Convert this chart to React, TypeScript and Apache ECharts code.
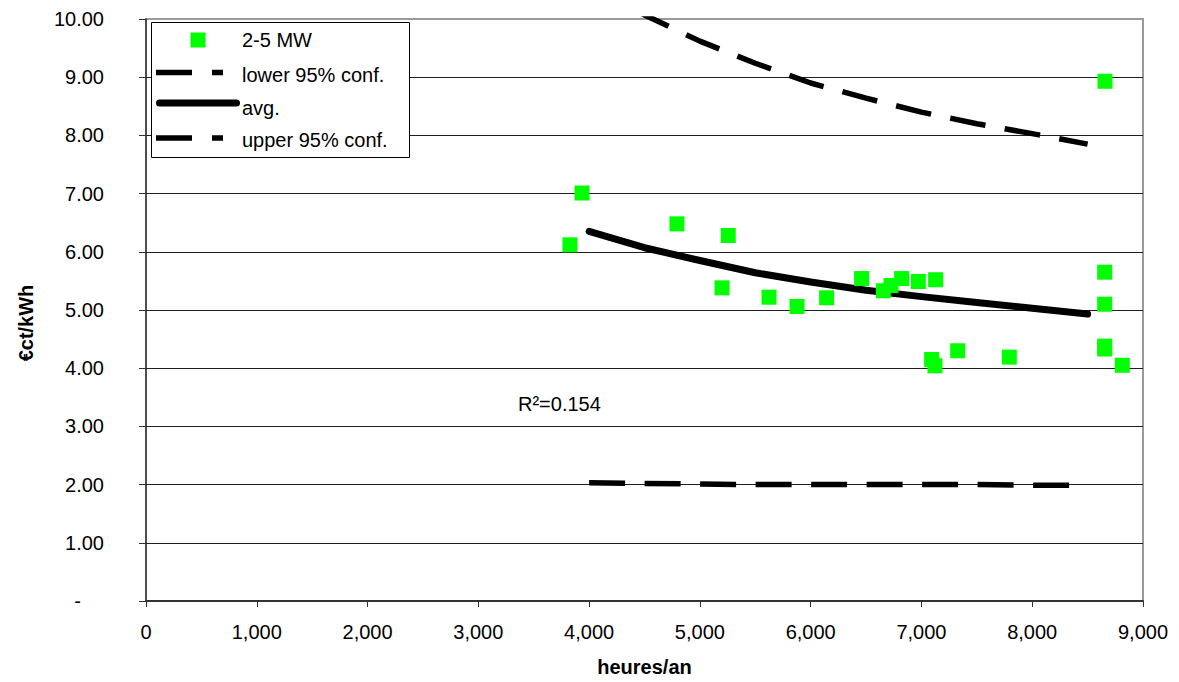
import React, { useEffect, useRef } from 'react';
import * as echarts from 'echarts';

// ---- data ----
const scatterName = '2-5 MW';
const lowerName = 'lower 95% conf.';
const avgName = 'avg.';
const upperName = 'upper 95% conf.';

const scatterX = [3827, 3936, 4793, 5256, 5200, 5624, 5877, 6144, 6460, 6656, 6725, 6821, 6972, 7128, 7092, 7122, 7327, 7793, 8654, 8654, 8654, 8654, 8813, 8657];
const scatterY = [6.12, 7.01, 6.48, 6.28, 5.38, 5.22, 5.06, 5.21, 5.54, 5.33, 5.42, 5.54, 5.49, 5.52, 4.15, 4.04, 4.30, 4.19, 5.65, 5.10, 4.38, 4.33, 4.05, 8.93];

const fitX = [4000, 4500, 5000, 5500, 6000, 6500, 7000, 7500, 8000, 8500];
const avgY = [6.35, 6.07, 5.85, 5.64, 5.48, 5.34, 5.23, 5.13, 5.03, 4.93];
const upperY = [10.65, 10.07, 9.62, 9.24, 8.9, 8.64, 8.4, 8.2, 8.03, 7.85];
const lowerY = [2.03, 2.02, 2.01, 2.0, 2.0, 2.0, 2.0, 2.0, 1.99, 1.99];

const xTitle = 'heures/an';
const yTitle = '€ct/kWh';
const r2Label = 'R²=0.154';

const FONT = '"Liberation Sans", Arial, Helvetica, sans-serif';

const pairs = (xs: number[], ys: number[]) => xs.map((x, i) => [x, ys[i]]);

export default function App() {
  const ref = useRef<HTMLDivElement>(null);

  useEffect(() => {
    if (!ref.current) return;
    const chart = echarts.init(ref.current, null, { renderer: 'svg' });

    const legendText = (text: string, y: number) => ({
      type: 'text',
      z: 101,
      x: 242,
      y,
      style: { text, fontSize: 20, fontFamily: FONT, fill: '#000', align: 'left', verticalAlign: 'middle' },
    });

    const option: any = {
      animation: false,
      backgroundColor: '#ffffff',
      textStyle: { fontFamily: FONT },
      grid: {
        left: 146,
        right: 36,
        top: 19,
        bottom: 81,
        show: true,
        borderColor: '#9a9a9a',
        borderWidth: 2,
        backgroundColor: 'transparent',
      },
      xAxis: {
        type: 'value',
        min: 0,
        max: 9000,
        interval: 1000,
        axisLine: { show: true, onZero: false, lineStyle: { color: '#333', width: 2 } },
        axisTick: { show: true, length: 6, lineStyle: { color: '#333', width: 1 } },
        axisLabel: {
          margin: 21,
          fontSize: 20,
          color: '#000',
          fontFamily: FONT,
          formatter: (v: number) => String(v).replace(/\B(?=(\d{3})+(?!\d))/g, ','),
        },
        splitLine: { show: false },
        name: xTitle,
        nameLocation: 'middle',
        nameGap: 56,
        nameTextStyle: { fontSize: 20, fontWeight: 'bold', color: '#000', fontFamily: FONT },
      },
      yAxis: {
        type: 'value',
        min: 0,
        max: 10,
        interval: 1,
        axisLine: { show: true, lineStyle: { color: '#333', width: 1.5 } },
        axisTick: { show: true, length: 7, lineStyle: { color: '#333', width: 1 } },
        axisLabel: {
          margin: 42,
          fontSize: 20,
          color: '#000',
          fontFamily: FONT,
          formatter: (v: number) => (v === 0 ? '{z|-}' : v.toFixed(2)),
          rich: { z: { fontSize: 20, color: '#000', fontFamily: FONT, padding: [0, 23, 0, 0] } },
        },
        splitLine: {
          show: true,
          showMinLine: false,
          showMaxLine: false,
          lineStyle: { color: '#1f1f1f', width: 1 },
        },
      },
      series: [
        {
          type: 'scatter',
          name: scatterName,
          data: pairs(scatterX, scatterY),
          symbol: 'rect',
          symbolSize: 15,
          itemStyle: { color: '#00ff00', opacity: 1 },
          z: 3,
        },
        {
          type: 'line',
          name: lowerName,
          data: pairs(fitX, lowerY),
          symbol: 'none',
          showSymbol: false,
          clip: true,
          lineStyle: { color: '#000', width: 5.5, type: [36, 19.5], cap: 'butt' },
          z: 2,
        },
        {
          type: 'line',
          name: avgName,
          data: pairs(fitX, avgY),
          symbol: 'none',
          showSymbol: false,
          clip: true,
          lineStyle: { color: '#000', width: 7, cap: 'round', join: 'round' },
          z: 2,
        },
        {
          type: 'line',
          name: upperName,
          data: pairs(fitX, upperY),
          symbol: 'none',
          showSymbol: false,
          clip: true,
          lineStyle: { color: '#000', width: 5.5, type: [36, 19.5], cap: 'butt' },
          z: 2,
        },
      ],
      graphic: [
        // legend box
        {
          type: 'rect',
          z: 100,
          shape: { x: 151.5, y: 22.5, width: 258, height: 135 },
          style: { fill: '#ffffff', stroke: '#000', lineWidth: 1 },
        },
        {
          type: 'rect',
          z: 101,
          shape: { x: 190.5, y: 32.5, width: 15, height: 15 },
          style: { fill: '#00ff00' },
        },
        {
          type: 'line',
          z: 101,
          shape: { x1: 156, y1: 72.5, x2: 223, y2: 72.5 },
          style: { stroke: '#000', lineWidth: 5.5, lineDash: [36, 20] },
        },
        {
          type: 'line',
          z: 101,
          shape: { x1: 159.5, y1: 103, x2: 236.5, y2: 103 },
          style: { stroke: '#000', lineWidth: 7, lineCap: 'round' },
        },
        {
          type: 'line',
          z: 101,
          shape: { x1: 156, y1: 138, x2: 223, y2: 138 },
          style: { stroke: '#000', lineWidth: 5.5, lineDash: [36, 20] },
        },
        legendText(scatterName, 40),
        legendText(lowerName, 75),
        legendText(avgName, 108),
        legendText(upperName, 140),
        // R² annotation
        {
          type: 'text',
          z: 101,
          x: 518,
          y: 404,
          style: { text: r2Label, fontSize: 20, fontFamily: FONT, fill: '#000', align: 'left', verticalAlign: 'middle' },
        },
        // y-axis title
        {
          type: 'text',
          z: 101,
          x: 26,
          y: 323,
          rotation: Math.PI / 2,
          style: {
            text: yTitle,
            fontSize: 20,
            fontWeight: 'bold',
            fontFamily: FONT,
            fill: '#000',
            align: 'center',
            verticalAlign: 'middle',
          },
        },
      ],
    };

    chart.setOption(option);
    return () => {
      chart.dispose();
    };
  }, []);

  return (
    <div
      ref={ref}
      style={{ position: 'absolute', left: 0, top: 0, width: 1179, height: 682, background: '#fff' }}
    />
  );
}
